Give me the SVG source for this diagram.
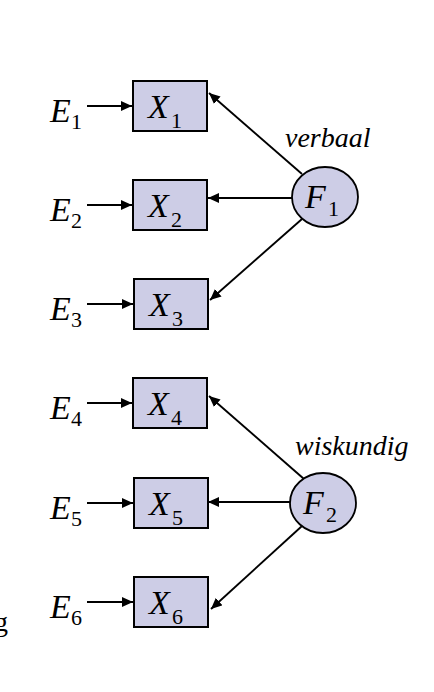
<svg xmlns="http://www.w3.org/2000/svg" width="434" height="692" viewBox="0 0 434 692">
<style>
.box{fill:#cdcde6;stroke:#000;stroke-width:2}
.circ{fill:#cdcde6;stroke:#000;stroke-width:1.8}
.it{font-family:"Liberation Serif",serif;font-style:italic;font-size:34px;fill:#000}
.sub{font-family:"Liberation Serif",serif;font-size:22px;fill:#000}
.lab{font-family:"Liberation Serif",serif;font-style:italic;font-size:28px;fill:#000}
.ln{stroke:#000;stroke-width:1.9;fill:none;marker-end:url(#ah)}
</style>
<defs>
<marker id="ah" markerUnits="userSpaceOnUse" markerWidth="12" markerHeight="10" refX="11" refY="5" orient="auto">
<path d="M0,0 L11,5 L0,10 Z" fill="#000"/>
</marker>
</defs>
<rect width="434" height="692" fill="#fff"/>
<g id="connectors">
<line class="ln" x1="87" y1="106" x2="132" y2="106"/>
<line class="ln" x1="87" y1="205" x2="132" y2="205"/>
<line class="ln" x1="87" y1="304" x2="133" y2="304"/>
<line class="ln" x1="87" y1="403" x2="132" y2="403"/>
<line class="ln" x1="87" y1="503" x2="133" y2="503"/>
<line class="ln" x1="87" y1="602" x2="133" y2="602"/>
<line class="ln" x1="302" y1="174" x2="209" y2="93"/>
<line class="ln" x1="292" y1="198" x2="208" y2="198"/>
<line class="ln" x1="302" y1="219" x2="210" y2="300"/>
<line class="ln" x1="304" y1="479" x2="209" y2="396"/>
<line class="ln" x1="290" y1="502" x2="208" y2="502"/>
<line class="ln" x1="302" y1="526" x2="211" y2="609"/>
</g>
<g id="E1"><text class="it" x="50" y="122">E</text><text class="sub" x="71" y="129">1</text></g>
<g id="E2"><text class="it" x="50" y="221">E</text><text class="sub" x="71" y="228">2</text></g>
<g id="E3"><text class="it" x="50" y="320">E</text><text class="sub" x="71" y="327">3</text></g>
<g id="E4"><text class="it" x="50" y="419">E</text><text class="sub" x="71" y="426">4</text></g>
<g id="E5"><text class="it" x="50" y="519">E</text><text class="sub" x="71" y="526">5</text></g>
<g id="E6"><text class="it" x="50" y="618">E</text><text class="sub" x="71" y="625">6</text></g>
<g id="X1"><rect class="box" x="133" y="81" width="74" height="50"/><text class="it" x="148" y="118">X</text><text class="sub" x="171" y="128">1</text></g>
<g id="X2"><rect class="box" x="133" y="180" width="74" height="50"/><text class="it" x="148" y="217">X</text><text class="sub" x="171" y="227">2</text></g>
<g id="X3"><rect class="box" x="134" y="279" width="74" height="50"/><text class="it" x="149" y="316">X</text><text class="sub" x="172" y="326">3</text></g>
<g id="X4"><rect class="box" x="133" y="378" width="74" height="50"/><text class="it" x="148" y="415">X</text><text class="sub" x="171" y="425">4</text></g>
<g id="X5"><rect class="box" x="134" y="478" width="74" height="50"/><text class="it" x="149" y="515">X</text><text class="sub" x="172" y="525">5</text></g>
<g id="X6"><rect class="box" x="134" y="577" width="74" height="50"/><text class="it" x="149" y="614">X</text><text class="sub" x="172" y="624">6</text></g>
<g id="F1"><ellipse class="circ" cx="325" cy="197" rx="33" ry="30"/><text class="it" x="305" y="208">F</text><text class="sub" x="328" y="216">1</text></g>
<g id="F2"><ellipse class="circ" cx="323" cy="503" rx="33" ry="30"/><text class="it" x="303" y="514">F</text><text class="sub" x="326" y="522">2</text></g>
<text class="lab" x="285" y="147">verbaal</text>
<text class="lab" x="295" y="455">wiskundig</text>
<text style="font-family:'Liberation Serif',serif;font-size:28px" x="-6" y="631">g</text>
</svg>
